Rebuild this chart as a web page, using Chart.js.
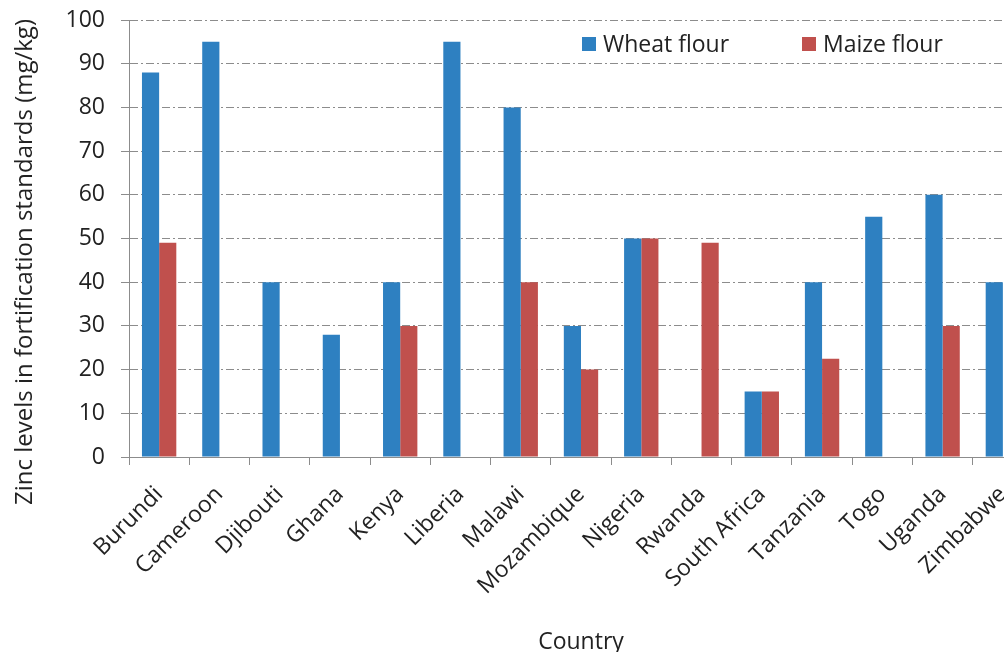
<!DOCTYPE html>
<html>
<head>
<meta charset="utf-8">
<script src="https://cdn.jsdelivr.net/npm/chart.js@4.4.1/dist/chart.umd.min.js"></script>
<style>
  html, body { margin: 0; padding: 0; background: #ffffff; overflow: hidden; }
  #wrap { position: relative; width: 1040px; height: 652px; }
</style>
</head>
<body>
<div id="wrap"><canvas id="chart" width="1040" height="652"></canvas></div>
<script>
// Zinc fortification standards by country (mg/kg)
const countries = ['Burundi', 'Cameroon', 'Djibouti', 'Ghana', 'Kenya', 'Liberia', 'Malawi',
  'Mozambique', 'Nigeria', 'Rwanda', 'South Africa', 'Tanzania', 'Togo', 'Uganda', 'Zimbabwe'];
const wheatFlour = [88, 95, 40, 28, 40, 95, 80, 30, 50, null, 15, 40, 55, 60, 40];
const maizeFlour = [49, null, null, null, 30, null, 40, 20, 50, 49, 15, 22.5, null, 30, null];
const yTicks = [0, 10, 20, 30, 40, 50, 60, 70, 80, 90, 100];

const FONT = "'Open Sans', 'Noto Sans', sans-serif";
const TEXT = '#222222';
const GRID = '#8c8c8c';
const BLUE = '#2e80c1';
const RED = '#c0504d';

// Legend drawn inside the plot area, top right
const innerLegend = {
  id: 'innerLegend',
  afterDatasetsDraw(chart) {
    const ctx = chart.ctx;
    const items = [{ x: 582 }, { x: 802 }];
    ctx.save();
    ctx.font = '23px ' + FONT;
    ctx.textBaseline = 'alphabetic';
    chart.data.datasets.forEach((ds, i) => {
      const x = items[i].x;
      ctx.fillStyle = ds.backgroundColor;
      ctx.fillRect(x, 37, 14, 14);
      ctx.fillStyle = TEXT;
      ctx.fillText(ds.label, x + 21, 52);
    });
    ctx.restore();
  }
};

// Vertical axis title, centred on the full plot height
const yTitle = {
  id: 'yTitle',
  afterDraw(chart) {
    const ctx = chart.ctx;
    ctx.save();
    ctx.translate(25, 262);
    ctx.rotate(-Math.PI / 2);
    ctx.font = '24px ' + FONT;
    ctx.fillStyle = TEXT;
    ctx.textAlign = 'center';
    ctx.textBaseline = 'middle';
    ctx.fillText('Zinc levels in fortification standards (mg/kg)', 0, 0);
    ctx.restore();
  }
};

new Chart(document.getElementById('chart'), {
  type: 'bar',
  data: {
    labels: countries,
    datasets: [
      { label: 'Wheat flour', data: wheatFlour, backgroundColor: BLUE,
        categoryPercentage: 0.57, barPercentage: 1.0 },
      { label: 'Maize flour', data: maizeFlour, backgroundColor: RED,
        categoryPercentage: 0.57, barPercentage: 1.0 }
    ]
  },
  options: {
    responsive: false,
    animation: false,
    devicePixelRatio: 1,
    layout: { padding: { top: 20, right: 7, left: 0, bottom: 0 } },
    plugins: {
      legend: { display: false },
      tooltip: { enabled: false }
    },
    scales: {
      x: {
        grid: { offset: true, drawOnChartArea: false, drawTicks: true, tickLength: 8, color: GRID },
        border: { color: GRID, width: 1 },
        ticks: {
          autoSkip: false, minRotation: 45, maxRotation: 45, padding: 16,
          color: TEXT, font: { family: FONT, size: 23 }
        },
        title: {
          display: true, text: 'Country', color: TEXT,
          font: { family: FONT, size: 23 }, padding: { top: 0, bottom: -4 }
        },
        afterFit(scale) { scale.height = 652 - 457; }
      },
      y: {
        min: 0, max: 100,
        afterBuildTicks(scale) { scale.ticks = yTicks.map(v => ({ value: v })); },
        grid: { color: GRID, tickLength: 8, drawTicks: true },
        border: { color: GRID, width: 1, dash: [8, 3, 2, 3] },
        ticks: { padding: 16, color: TEXT, font: { family: FONT, size: 23 } },
        afterFit(scale) {
          scale.width = 129;
          scale.paddingTop = 0;
          scale.paddingBottom = 0;
        }
      }
    }
  },
  plugins: [innerLegend, yTitle]
});
</script>
</body>
</html>
